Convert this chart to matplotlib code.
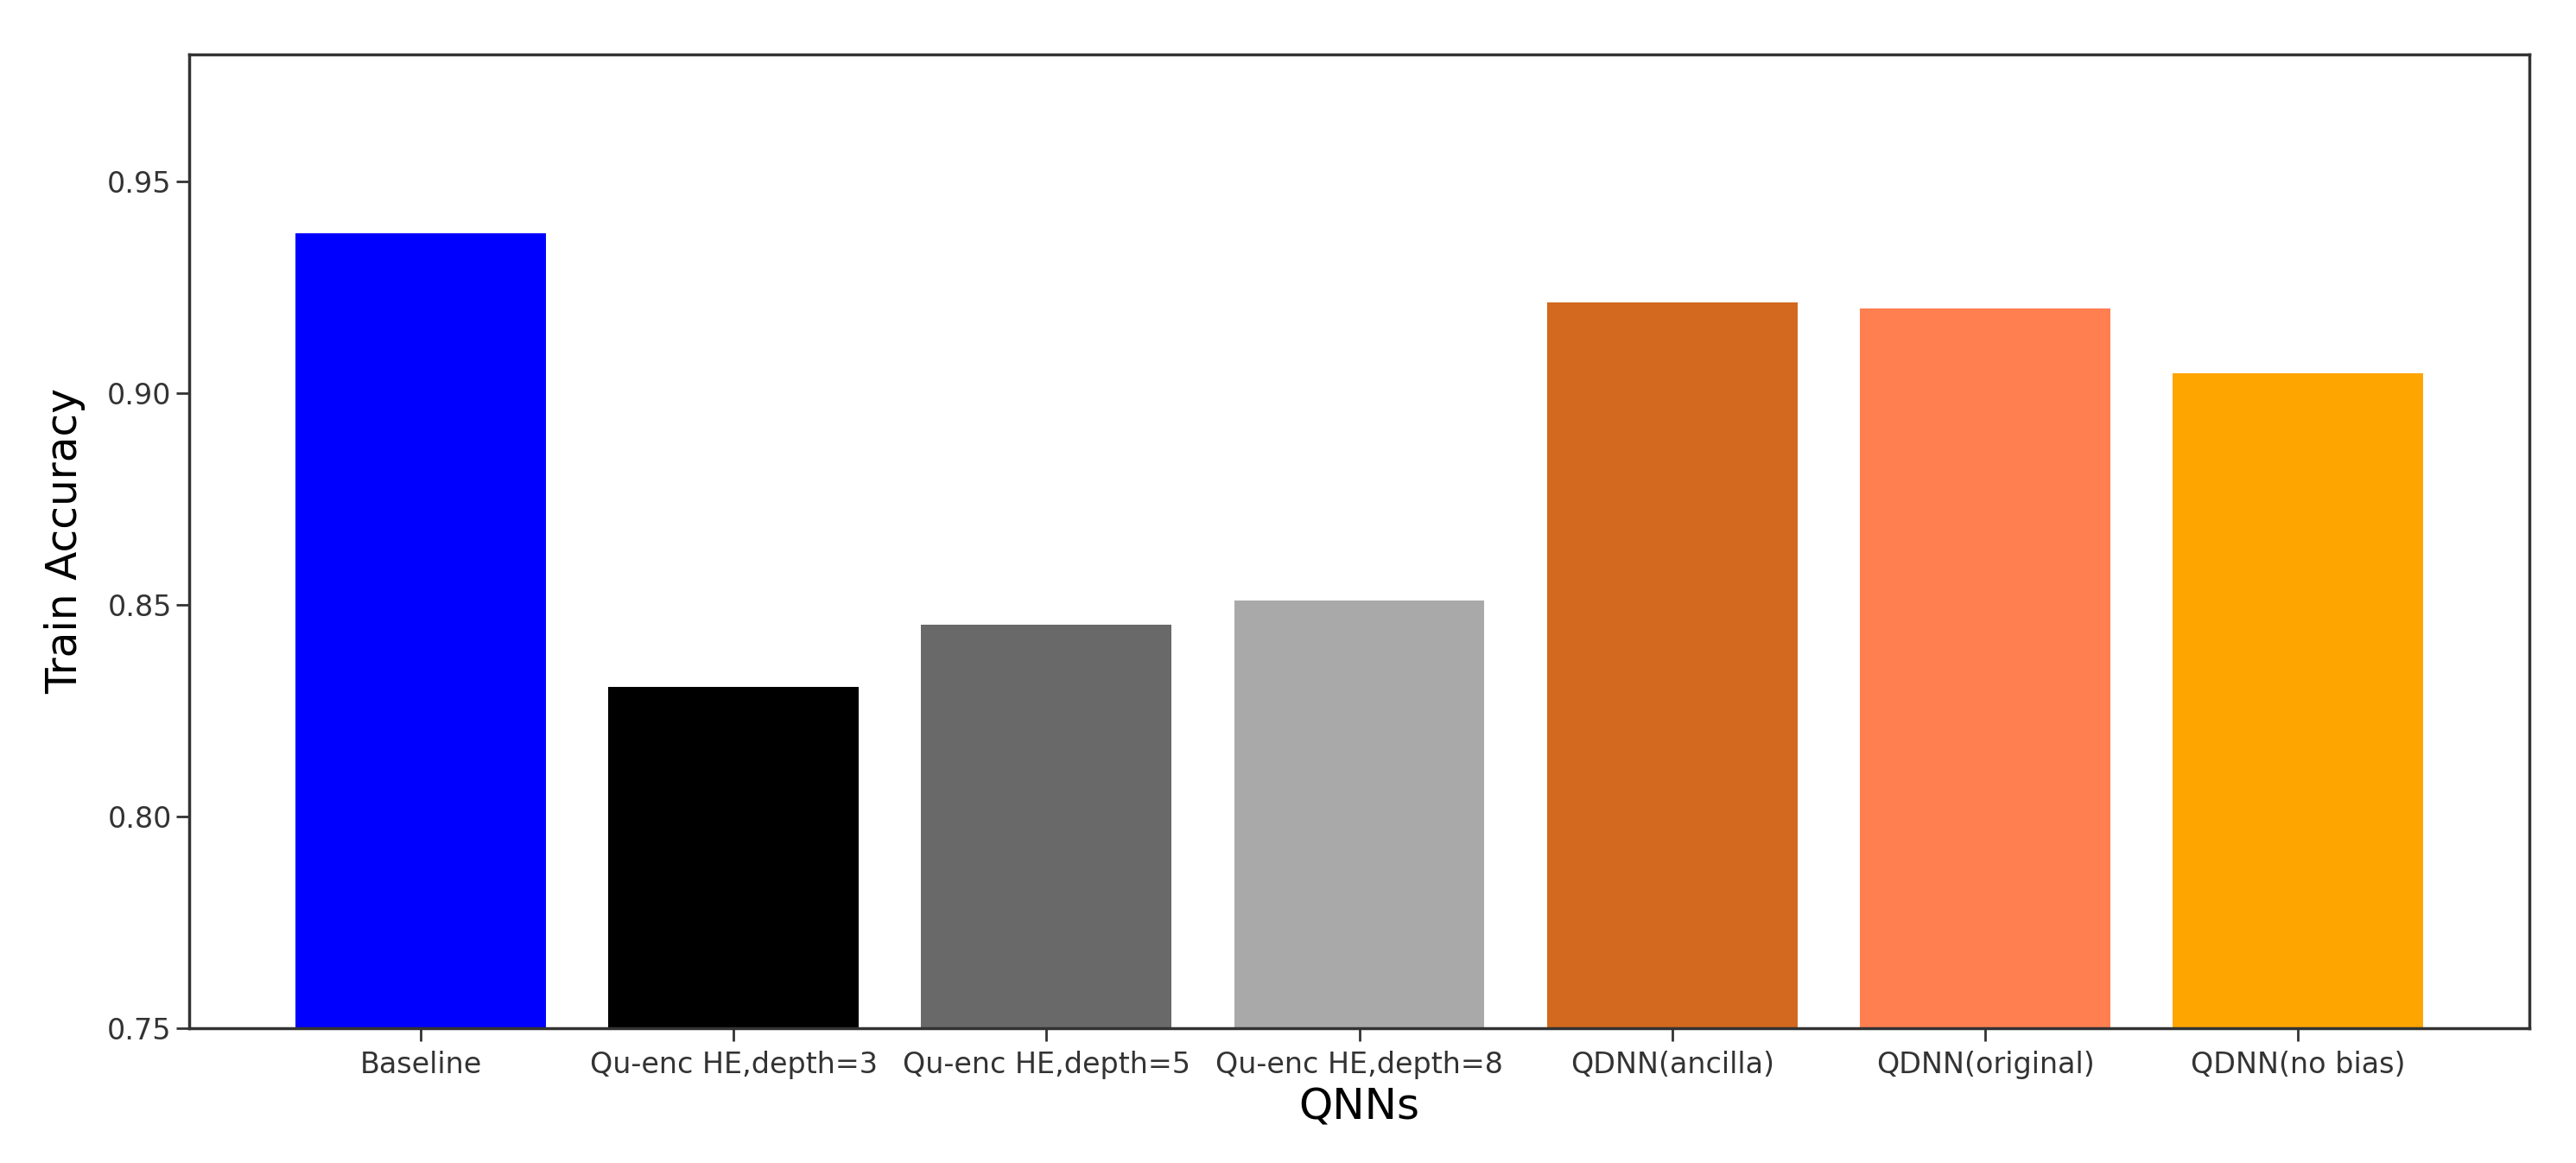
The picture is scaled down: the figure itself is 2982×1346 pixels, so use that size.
import matplotlib
matplotlib.use('Agg')
import matplotlib.pyplot as plt

models = ['Baseline', 'Qu-enc HE,depth=3', 'Qu-enc HE,depth=5', 'Qu-enc HE,depth=8',
          'QDNN(ancilla)', 'QDNN(original)', 'QDNN(no bias)']
train_acc = [0.9378, 0.8307, 0.8453, 0.8510, 0.9215, 0.9201, 0.9046]
bar_colors = ['blue', 'black', 'dimgray', 'darkgray', 'chocolate', 'coral', 'orange']

fig = plt.figure(figsize=(29.82, 13.46), dpi=100)
ax = fig.add_axes([0.0734, 0.1159, 0.9086, 0.8373])

ax.bar(models, train_acc, color=bar_colors, width=0.8)
ax.set_ylim(0.75, 0.98)
ax.set_yticks([0.75, 0.80, 0.85, 0.90, 0.95])

ax.set_xlabel('QNNs', fontsize=36, labelpad=6)
ax.set_ylabel('Train Accuracy', fontsize=35, labelpad=18)
ax.tick_params(axis='both', labelsize=24, length=11, width=2, colors='#333333')
ax.tick_params(axis='x', pad=8)
for sp in ax.spines.values():
    sp.set_linewidth(2.5)
    sp.set_color('#333333')

plt.savefig('out.png', dpi=100)
